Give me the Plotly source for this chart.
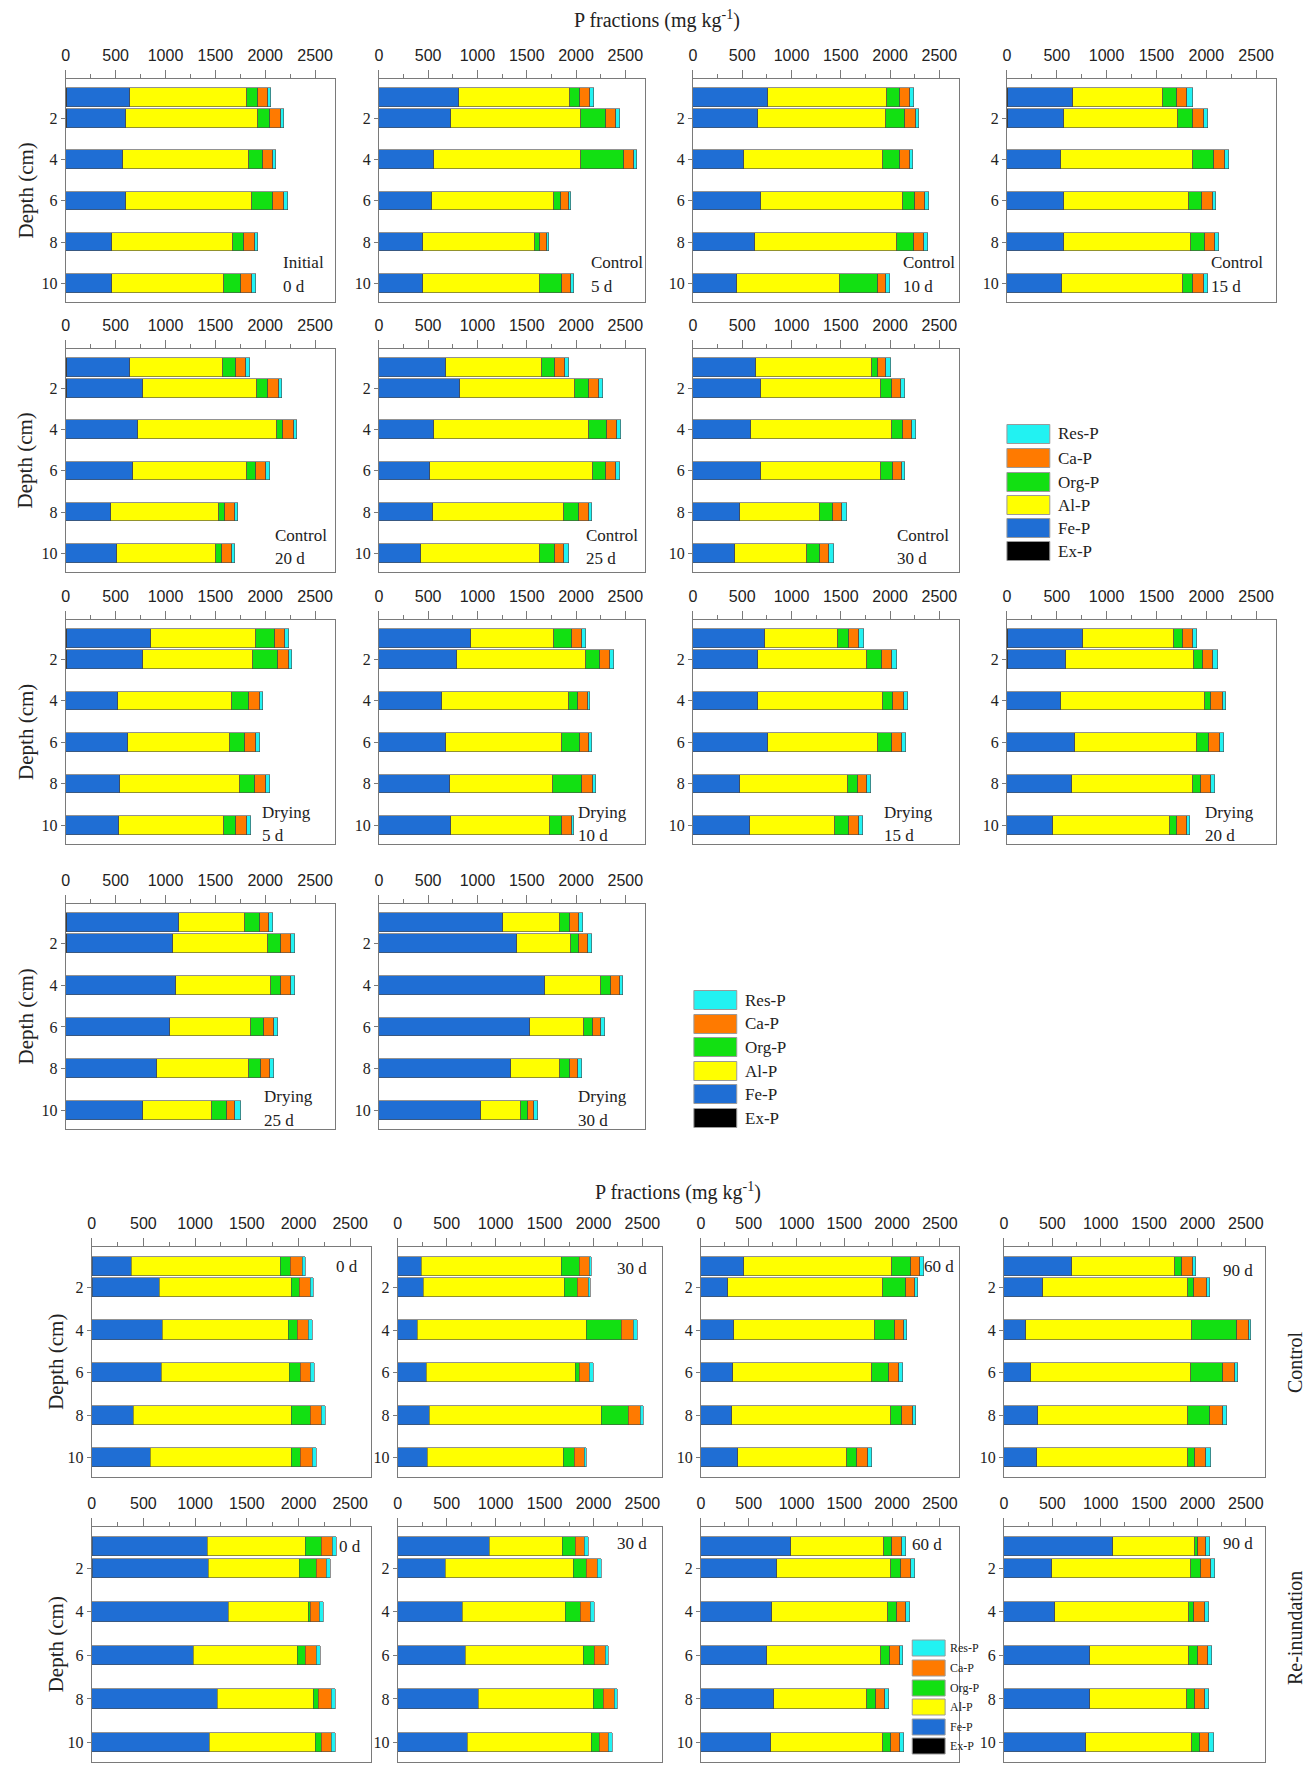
import plotly.graph_objects as go

W, H = 1311, 1765
SERIF = "Liberation Serif, Times New Roman, serif"
SANS = "Liberation Sans, Arial, sans-serif"

depths = [1, 2, 4, 6, 8, 10]
depth_ticks = [2, 4, 6, 8, 10]
fractions = ["Ex-P", "Fe-P", "Al-P", "Org-P", "Ca-P", "Res-P"]
colors = ["#000000", "#1F6ED4", "#FFFF00", "#12E012", "#FF7A00", "#22F2F2"]

# each panel: [Ex-P, Fe-P, Al-P, Org-P, Ca-P, Res-P], values for depths 1,2,4,6,8,10 (mg/kg)
initial_0d = [[5, 5, 4, 4, 4, 4],
              [637, 599, 565, 599, 460, 460],
              [1178, 1325, 1271, 1258, 1211, 1122],
              [109, 118, 135, 215, 114, 174],
              [97, 110, 101, 114, 110, 105],
              [34, 34, 34, 34, 29, 38]]
control_5d = [[5, 5, 4, 4, 4, 4],
              [811, 722, 554, 529, 441, 441],
              [1121, 1319, 1487, 1243, 1134, 1189],
              [105, 252, 445, 68, 50, 226],
              [97, 101, 93, 79, 72, 84],
              [42, 42, 33, 26, 25, 34]]
control_10d = [[5, 5, 4, 4, 4, 4],
               [755, 658, 515, 688, 620, 447],
               [1207, 1296, 1405, 1435, 1448, 1038],
               [131, 194, 173, 122, 169, 384],
               [101, 105, 101, 106, 105, 85],
               [42, 34, 38, 38, 34, 38]]
control_15d = [[5, 5, 4, 4, 4, 4],
               [657, 564, 538, 564, 564, 547],
               [903, 1145, 1319, 1259, 1280, 1217],
               [144, 148, 212, 127, 136, 102],
               [98, 110, 115, 111, 98, 101],
               [55, 47, 38, 34, 46, 47]]
control_20d = [[5, 5, 4, 4, 4, 4],
               [633, 772, 722, 663, 443, 506],
               [933, 1140, 1388, 1147, 1089, 992],
               [135, 109, 59, 93, 55, 59],
               [101, 106, 110, 102, 105, 101],
               [38, 38, 38, 38, 34, 34]]
control_25d = [[5, 5, 4, 4, 4, 4],
               [679, 821, 557, 511, 541, 419],
               [968, 1161, 1572, 1655, 1336, 1215],
               [134, 147, 176, 130, 147, 147],
               [96, 100, 108, 105, 100, 96],
               [50, 42, 38, 38, 34, 42]]
control_30d = [[5, 5, 4, 4, 4, 4],
               [630, 685, 588, 685, 470, 424],
               [1184, 1213, 1424, 1222, 819, 731],
               [55, 114, 109, 117, 126, 126],
               [80, 92, 101, 89, 93, 92],
               [54, 42, 38, 37, 46, 55]]
drying_5d = [[5, 5, 4, 4, 4, 4],
             [852, 768, 515, 616, 540, 523],
             [1051, 1106, 1143, 1026, 1203, 1060],
             [190, 249, 178, 152, 152, 118],
             [101, 105, 101, 109, 110, 109],
             [38, 38, 34, 42, 33, 38]]
drying_10d = [[5, 5, 4, 4, 4, 4],
              [930, 784, 637, 679, 716, 725],
              [842, 1307, 1290, 1177, 1040, 1005],
              [181, 142, 88, 176, 301, 122],
              [96, 105, 97, 97, 105, 101],
              [42, 38, 29, 25, 34, 25]]
drying_15d = [[5, 5, 4, 4, 4, 4],
              [722, 655, 651, 760, 475, 575],
              [740, 1105, 1277, 1109, 1092, 866],
              [117, 147, 101, 143, 105, 142],
              [97, 105, 109, 105, 92, 93],
              [54, 54, 42, 42, 42, 46]]
drying_20d = [[5, 5, 4, 4, 4, 4],
              [758, 587, 536, 675, 649, 461],
              [914, 1286, 1450, 1227, 1211, 1169],
              [88, 92, 59, 122, 80, 75],
              [96, 101, 113, 109, 101, 93],
              [42, 42, 38, 42, 37, 33]]
drying_25d = [[5, 5, 4, 4, 4, 4],
              [1131, 1068, 1101, 1038, 912, 768],
              [658, 958, 950, 815, 924, 696],
              [152, 126, 105, 130, 114, 144],
              [89, 101, 97, 102, 97, 88],
              [46, 43, 43, 42, 33, 55]]
drying_30d = [[5, 5, 4, 4, 4, 4],
              [1256, 1399, 1680, 1529, 1331, 1029],
              [579, 541, 563, 542, 504, 407],
              [93, 84, 105, 92, 97, 72],
              [92, 93, 88, 84, 84, 59],
              [46, 38, 38, 46, 34, 37]]

ctrl_0d = [[5, 5, 4, 4, 4, 4],
           [385, 648, 680, 672, 405, 563],
           [1438, 1284, 1224, 1236, 1523, 1365],
           [101, 77, 85, 105, 182, 89],
           [109, 109, 109, 105, 113, 113],
           [33, 29, 32, 33, 33, 41]]
ctrl_30d = [[5, 5, 4, 4, 4, 4],
            [238, 259, 200, 293, 323, 301],
            [1435, 1443, 1723, 1520, 1761, 1393],
            [182, 136, 365, 46, 276, 106],
            [102, 106, 115, 102, 119, 106],
            [25, 26, 42, 34, 30, 21]]
ctrl_60d = [[5, 5, 4, 4, 4, 4],
            [449, 273, 343, 326, 321, 383],
            [1540, 1623, 1474, 1456, 1659, 1135],
            [198, 242, 203, 180, 119, 114],
            [101, 97, 101, 106, 114, 115],
            [35, 31, 31, 40, 31, 35]]
ctrl_90d = [[5, 5, 4, 4, 4, 4],
            [696, 397, 219, 274, 346, 342],
            [1068, 1502, 1718, 1650, 1553, 1561],
            [76, 63, 468, 334, 224, 64],
            [105, 127, 119, 122, 135, 122],
            [38, 38, 29, 38, 38, 42]]
reinund_0d = [[5, 5, 4, 4, 4, 4],
              [1116, 1125, 1319, 983, 1214, 1141],
              [951, 877, 772, 1003, 930, 1019],
              [150, 166, 25, 77, 52, 57],
              [105, 101, 84, 109, 118, 105],
              [40, 37, 41, 41, 40, 36]]
reinund_30d = [[5, 5, 4, 4, 4, 4],
               [939, 483, 662, 687, 824, 709],
               [739, 1310, 1055, 1213, 1179, 1268],
               [141, 133, 153, 107, 94, 81],
               [90, 115, 94, 111, 115, 98],
               [42, 34, 47, 38, 34, 39]]
reinund_60d = [[5, 5, 4, 4, 4, 4],
               [939, 791, 735, 683, 757, 727],
               [968, 1194, 1220, 1198, 977, 1172],
               [87, 104, 86, 96, 91, 82],
               [104, 104, 100, 99, 100, 99],
               [38, 43, 39, 35, 34, 39]]
reinund_90d = [[5, 5, 4, 4, 4, 4],
               [1119, 496, 522, 882, 882, 840],
               [848, 1437, 1386, 1030, 1005, 1102],
               [34, 94, 47, 89, 80, 76],
               [85, 106, 114, 102, 111, 102],
               [42, 46, 43, 42, 38, 42]]

top_panels = [initial_0d, control_5d, control_10d, control_15d,
              control_20d, control_25d, control_30d,
              drying_5d, drying_10d, drying_15d, drying_20d,
              drying_25d, drying_30d]
top_treat = ["Initial", "Control", "Control", "Control",
             "Control", "Control", "Control",
             "Drying", "Drying", "Drying", "Drying",
             "Drying", "Drying"]
top_day = ["0 d", "5 d", "10 d", "15 d", "20 d", "25 d", "30 d",
           "5 d", "10 d", "15 d", "20 d", "25 d", "30 d"]
top_cells = [(0, 0), (0, 1), (0, 2), (0, 3), (1, 0), (1, 1), (1, 2),
             (2, 0), (2, 1), (2, 2), (2, 3), (3, 0), (3, 1)]
top_label_x = [0.80, 0.79, 0.78, 0.75, 0.77, 0.77, 0.76,
               0.72, 0.74, 0.71, 0.73, 0.73, 0.74]

bot_panels = [ctrl_0d, ctrl_30d, ctrl_60d, ctrl_90d,
              reinund_0d, reinund_30d, reinund_60d, reinund_90d]
bot_day = ["0 d", "30 d", "60 d", "90 d", "0 d", "30 d", "60 d", "90 d"]
bot_label_x = [0.96, 0.95, 0.99, 0.96, 0.97, 0.95, 0.94, 0.96]
bot_label_y = [1.0, 1.1, 1.0, 1.2, 1.0, 0.85, 0.9, 0.85]
groups = ["Control", "Re-inundation"]
group_y = [1362, 1628]

# layout geometry (pixels)
top_cols = [(62, 332), (376, 643), (691, 958), (1006, 1276)]
top_rows = [(79, 302), (349, 572), (620, 844), (904, 1129)]
top_text_y = [(9.0, 10.15), (9.15, 10.25), (9.4, 10.5), (9.35, 10.5)]
bot_cols = [(88, 368), (395, 660), (699, 958), (1003, 1265)]
bot_rows = [(1247, 1477), (1527, 1762)]

fig = go.Figure()
layout = dict(width=W, height=H, margin=dict(l=0, r=0, t=0, b=0),
              paper_bgcolor="white", plot_bgcolor="white",
              barmode="stack", showlegend=False, bargap=0)
annotations = []
shapes = []

AXC = "#7a7a7a"


def px_x(v):
    return v / W


def px_y(v):
    return 1 - v / H


def add_panel(n, data, col, row):
    xa = "x" if n == 1 else f"x{n}"
    ya = "y" if n == 1 else f"y{n}"
    for name, color, vals in zip(fractions, colors, data):
        fig.add_trace(go.Bar(
            x=vals, y=depths, orientation="h", width=0.9, name=name,
            marker=dict(color=color, line=dict(color="#4a4a4a", width=0.6)),
            xaxis=xa, yaxis=ya, showlegend=False))
    key = "" if n == 1 else str(n)
    layout["xaxis" + key] = dict(
        domain=[px_x(col[0]), px_x(col[1])], anchor=ya, side="top",
        range=[0, 2700], tickmode="linear", tick0=0, dtick=500,
        ticks="outside", ticklen=8, tickcolor=AXC,
        minor=dict(ticks="outside", ticklen=4, dtick=250, tickcolor=AXC),
        showline=True, mirror=True, linecolor=AXC, linewidth=1,
        showgrid=False, zeroline=False, ticklabelstandoff=3,
        tickfont=dict(family=SANS, size=16, color="#222"))
    layout["yaxis" + key] = dict(
        domain=[px_y(row[1]), px_y(row[0])], anchor=xa,
        range=[10.9, 0.1], tickvals=depth_ticks,
        ticks="outside", ticklen=4, tickcolor=AXC,
        showline=True, mirror=True, linecolor=AXC, linewidth=1,
        showgrid=False, zeroline=False,
        tickfont=dict(family=SERIF, size=16, color="#222"))
    return xa, ya


n = 0
for i, data in enumerate(top_panels):
    n += 1
    r, c = top_cells[i]
    xa, ya = add_panel(n, data, top_cols[c], top_rows[r])
    y1, y2 = top_text_y[r]
    for txt, yy in ((top_treat[i], y1), (top_day[i], y2)):
        annotations.append(dict(
            text=txt, x=top_label_x[i], xref=f"{xa} domain", y=yy, yref=ya,
            xanchor="left", yanchor="middle", showarrow=False,
            font=dict(family=SERIF, size=17, color="#222")))

for i, data in enumerate(bot_panels):
    n += 1
    r, c = divmod(i, 4)
    xa, ya = add_panel(n, data, bot_cols[c], bot_rows[r])
    annotations.append(dict(
        text=bot_day[i], x=bot_label_x[i], xref=f"{xa} domain",
        y=bot_label_y[i], yref=ya, xanchor="right", yanchor="middle",
        showarrow=False, font=dict(family=SERIF, size=17, color="#222")))

# titles
for tx, ty in ((655, 20), (676, 1191)):
    annotations.append(dict(
        text="P fractions (mg kg<sup>-1</sup>)", x=px_x(tx), y=px_y(ty),
        xref="paper", yref="paper", showarrow=False,
        xanchor="center", yanchor="middle",
        font=dict(family=SERIF, size=20, color="#222")))

# depth titles
for (t, b) in top_rows:
    annotations.append(dict(
        text="Depth (cm)", x=px_x(22), y=px_y((t + b) / 2), xref="paper",
        yref="paper", showarrow=False, textangle=-90,
        xanchor="center", yanchor="middle",
        font=dict(family=SERIF, size=21, color="#222")))
for (t, b) in bot_rows:
    annotations.append(dict(
        text="Depth (cm)", x=px_x(52), y=px_y((t + b) / 2), xref="paper",
        yref="paper", showarrow=False, textangle=-90,
        xanchor="center", yanchor="middle",
        font=dict(family=SERIF, size=21, color="#222")))

# group labels on the right of the lower figure
for g, gy in zip(groups, group_y):
    annotations.append(dict(
        text=g, x=px_x(1295), y=px_y(gy), xref="paper",
        yref="paper", showarrow=False, textangle=-90,
        xanchor="center", yanchor="middle",
        font=dict(family=SERIF, size=20, color="#222")))

# legends (drawn as swatches + text)
legends = [
    dict(x0=1006, x1=1049, y=[434, 458, 482, 505, 528, 551], h=19, tx=1055, fs=17),
    dict(x0=692, x1=735, y=[1000, 1024, 1047, 1071, 1094, 1118], h=19, tx=741, fs=17),
    dict(x0=911, x1=944, y=[1648, 1668, 1688, 1707, 1727, 1746], h=16, tx=947, fs=12),
]
for lg in legends:
    for name, color, yc in zip(fractions[::-1], colors[::-1], lg["y"]):
        shapes.append(dict(
            type="rect", xref="paper", yref="paper",
            x0=px_x(lg["x0"]), x1=px_x(lg["x1"]),
            y0=px_y(yc + lg["h"] / 2), y1=px_y(yc - lg["h"] / 2),
            fillcolor=color, line=dict(color="#9a9a9a", width=1)))
        annotations.append(dict(
            text=name, x=px_x(lg["tx"]), y=px_y(yc), xref="paper", yref="paper",
            showarrow=False, xanchor="left", yanchor="middle",
            font=dict(family=SERIF, size=lg["fs"], color="#222")))

layout["annotations"] = annotations
layout["shapes"] = shapes
fig.update_layout(**layout)

fig.write_html("out.html", config={"displayModeBar": False},
               post_script="document.body.style.margin='0';")
